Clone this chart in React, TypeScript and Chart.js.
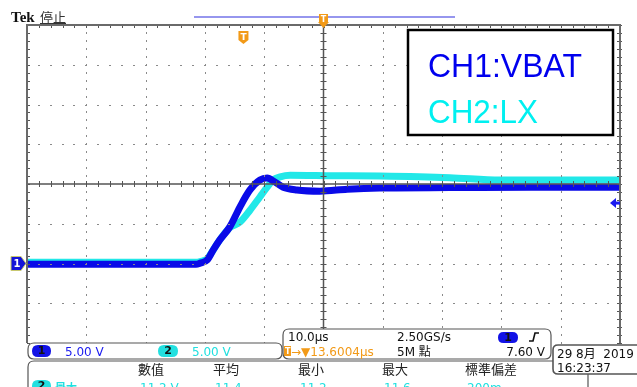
import React, { useEffect, useRef } from 'react';
import { Chart, registerables } from 'chart.js';
Chart.register(...registerables);

// ---- data (time in µs from left edge of screen, voltage in V relative to CH1 ground marker)
const ch1Time = [0, 20, 28.5, 29.2, 30.4, 31.4, 32.5, 34.2, 35.9, 37.6, 39.3, 40.5, 41.8, 43.2, 45.5, 49.4, 54, 59.5, 71.3, 85, 100];
const ch1Volt = [-0.1, -0.1, -0.1, 0.05, 0.45, 1.7, 2.95, 4.6, 7.1, 9.25, 10.5, 10.75, 10.25, 9.6, 9.25, 9.1, 9.35, 9.5, 9.55, 9.6, 9.6];
const ch2Time = [0, 20, 28.5, 29.2, 30.4, 31.4, 32.5, 34.2, 35.9, 37.6, 39.3, 40.5, 41.5, 42.7, 44.4, 51.1, 59.5, 71.3, 79.8, 90, 100];
const ch2Volt = [0.15, 0.15, 0.15, 0.25, 0.6, 1.7, 2.95, 4.5, 5.2, 6.7, 8.4, 9.6, 10.5, 10.9, 11.1, 11.05, 11.0, 10.8, 10.5, 10.5, 10.5];

const xMajorTicks = [0, 10, 20, 30, 40, 50, 60, 70, 80, 90, 100];
const yMajorTicks = [-10, -5, 0, 5, 10, 15, 20, 25, 30];
const xMinorStep = 2;
const yMinorStep = 1;
const xCenter = 50;
const yCenter = 10;
const triggerLevel = 7.6;
const triggerPos = 36.5;

const legendLabels = ['CH1:VBAT', 'CH2:LX'];
const measHeaders = ['數值', '平均', '最小', '最大', '標準偏差'];
const measValues = ['11.2 V', '11.4', '11.2', '11.6', '200m'];

const BLUE = '#0a0ae8';
const CYAN = '#22e8e8';
const ORANGE = '#f29a18';
const UI_FONT = "'DejaVu Sans', 'Noto Sans CJK TC'";
const CJK_FONT = "'Noto Sans CJK TC', 'DejaVu Sans'";

function rr(ctx: CanvasRenderingContext2D, x: number, y: number, w: number, h: number, r: number) {
  ctx.beginPath();
  ctx.moveTo(x + r, y);
  ctx.lineTo(x + w - r, y);
  ctx.quadraticCurveTo(x + w, y, x + w, y + r);
  ctx.lineTo(x + w, y + h - r);
  ctx.quadraticCurveTo(x + w, y + h, x + w - r, y + h);
  ctx.lineTo(x + r, y + h);
  ctx.quadraticCurveTo(x, y + h, x, y + h - r);
  ctx.lineTo(x, y + r);
  ctx.quadraticCurveTo(x, y, x + r, y);
  ctx.closePath();
}

function pill(ctx: CanvasRenderingContext2D, x: number, y: number, w: number, h: number, color: string, label: string) {
  rr(ctx, x, y, w, h, h / 2);
  ctx.fillStyle = color;
  ctx.fill();
  ctx.fillStyle = '#111';
  ctx.font = `bold 11px ${UI_FONT}`;
  ctx.textAlign = 'center';
  ctx.textBaseline = 'middle';
  ctx.fillText(label, x + w / 2, y + h / 2 + 0.5);
  ctx.textAlign = 'left';
  ctx.textBaseline = 'alphabetic';
}

const scopePlugin = {
  id: 'scope',
  beforeDraw(chart: any) {
    const ctx = chart.ctx as CanvasRenderingContext2D;
    ctx.save();
    ctx.fillStyle = '#ffffff';
    ctx.fillRect(0, 0, chart.width, chart.height);
    ctx.restore();
  },
  afterDatasetsDraw(chart: any) {
    const ctx = chart.ctx as CanvasRenderingContext2D;
    const xs = chart.scales.x;
    const ys = chart.scales.y;
    const left = xs.getPixelForValue(xMajorTicks[0]);
    const right = xs.getPixelForValue(xMajorTicks[xMajorTicks.length - 1]);
    const top = ys.getPixelForValue(yMajorTicks[yMajorTicks.length - 1]);
    const bottom = ys.getPixelForValue(yMajorTicks[0]);
    const cx = xs.getPixelForValue(xCenter);
    const cy = ys.getPixelForValue(yCenter);
    ctx.save();

    // dotted graticule
    ctx.fillStyle = '#8a8a8a';
    for (const t of xMajorTicks) {
      if (t === xCenter || t === xMajorTicks[0] || t === xMajorTicks[xMajorTicks.length - 1]) continue;
      const px = Math.round(xs.getPixelForValue(t));
      for (let v = yMajorTicks[0]; v <= yMajorTicks[yMajorTicks.length - 1]; v += yMinorStep) {
        const py = Math.round(ys.getPixelForValue(v));
        ctx.fillRect(px, py - 1, 1, 2);
      }
    }
    for (const t of yMajorTicks) {
      if (t === yCenter || t === yMajorTicks[0] || t === yMajorTicks[yMajorTicks.length - 1]) continue;
      const py = Math.round(ys.getPixelForValue(t));
      for (let v = xMajorTicks[0]; v <= xMajorTicks[xMajorTicks.length - 1]; v += xMinorStep) {
        const px = Math.round(xs.getPixelForValue(v));
        ctx.fillRect(px - 1, py, 2, 1);
      }
    }

    // center axes with ticks
    ctx.strokeStyle = '#555';
    ctx.lineWidth = 1.5;
    ctx.beginPath();
    ctx.moveTo(left, cy); ctx.lineTo(right, cy);
    ctx.moveTo(cx, top); ctx.lineTo(cx, bottom);
    ctx.stroke();
    ctx.lineWidth = 1;
    ctx.beginPath();
    for (let v = xMajorTicks[0]; v <= xMajorTicks[xMajorTicks.length - 1]; v += xMinorStep) {
      const px = Math.round(xs.getPixelForValue(v)) + 0.5;
      ctx.moveTo(px, cy - 3); ctx.lineTo(px, cy + 3);
      ctx.moveTo(px, top); ctx.lineTo(px, top + 3);
    }
    for (let v = yMajorTicks[0]; v <= yMajorTicks[yMajorTicks.length - 1]; v += yMinorStep) {
      const py = Math.round(ys.getPixelForValue(v)) + 0.5;
      ctx.moveTo(cx - 3, py); ctx.lineTo(cx + 3, py);
      ctx.moveTo(left, py); ctx.lineTo(left + 3, py);
      ctx.moveTo(right - 3, py); ctx.lineTo(right + 2, py);
    }
    ctx.stroke();

    // border
    ctx.strokeStyle = '#6a6a6a';
    ctx.lineWidth = 2;
    ctx.beginPath();
    ctx.moveTo(left, bottom); ctx.lineTo(left, top); ctx.lineTo(right, top); ctx.lineTo(right, bottom);
    ctx.stroke();

    // top header
    ctx.fillStyle = '#111';
    ctx.font = "bold 15px 'Liberation Serif'";
    ctx.fillText('Tek', 11, 22);
    ctx.font = `13px ${CJK_FONT}`;
    ctx.fillStyle = '#333';
    ctx.fillText('停止', 40, 22);
    ctx.strokeStyle = '#333';
    ctx.lineWidth = 1;
    ctx.beginPath(); ctx.moveTo(40, 23.5); ctx.lineTo(66, 23.5); ctx.stroke();

    ctx.strokeStyle = '#9696ee';
    ctx.lineWidth = 2;
    ctx.beginPath(); ctx.moveTo(194, 17); ctx.lineTo(455, 17); ctx.stroke();

    // top trigger marker
    ctx.fillStyle = ORANGE;
    ctx.fillRect(319, 14, 9, 9);
    ctx.beginPath(); ctx.moveTo(318, 22); ctx.lineTo(329, 22); ctx.lineTo(323.5, 28); ctx.closePath(); ctx.fill();
    ctx.fillStyle = '#fff';
    ctx.font = `bold 8px ${UI_FONT}`;
    ctx.textAlign = 'center';
    ctx.fillText('T', 323.5, 22);

    // trigger position marker inside graticule
    const tx = xs.getPixelForValue(triggerPos);
    ctx.fillStyle = ORANGE;
    ctx.beginPath();
    ctx.moveTo(tx - 5, 31); ctx.lineTo(tx + 5, 31); ctx.lineTo(tx + 5, 40); ctx.lineTo(tx, 44); ctx.lineTo(tx - 5, 40); ctx.closePath();
    ctx.fill();
    ctx.fillStyle = '#fff';
    ctx.font = `bold 9px ${UI_FONT}`;
    ctx.fillText('T', tx, 40);
    ctx.textAlign = 'left';

    // CH1 ground marker
    const gy = ys.getPixelForValue(0);
    ctx.fillStyle = '#1414d8';
    ctx.beginPath();
    ctx.moveTo(11, gy - 7); ctx.lineTo(21, gy - 7); ctx.lineTo(26, gy); ctx.lineTo(21, gy + 7); ctx.lineTo(11, gy + 7); ctx.closePath();
    ctx.fill();
    ctx.strokeStyle = '#c8c870';
    ctx.lineWidth = 1;
    ctx.stroke();
    ctx.fillStyle = '#fff';
    ctx.font = `bold 10px ${UI_FONT}`;
    ctx.textAlign = 'center';
    ctx.textBaseline = 'middle';
    ctx.fillText('1', 17, gy + 0.5);
    ctx.textAlign = 'left';
    ctx.textBaseline = 'alphabetic';

    // trigger level arrow
    const ty = ys.getPixelForValue(triggerLevel);
    ctx.fillStyle = '#1a1aef';
    ctx.beginPath();
    ctx.moveTo(610, ty); ctx.lineTo(616, ty - 5); ctx.lineTo(616, ty + 5); ctx.closePath(); ctx.fill();
    ctx.fillRect(615, ty - 1.5, 5, 3);

    // legend box
    ctx.fillStyle = '#fff';
    ctx.fillRect(407, 29, 207, 107);
    ctx.strokeStyle = '#000';
    ctx.lineWidth = 2.5;
    ctx.strokeRect(408, 30, 205, 105);
    ctx.font = "33px 'Liberation Sans'";
    ctx.fillStyle = '#0000ee';
    ctx.fillText(legendLabels[0], 428, 77, 154);
    ctx.fillStyle = '#00f0f0';
    ctx.fillText(legendLabels[1], 428, 123, 110);

    // channel box
    rr(ctx, 28, 343, 254, 16, 6);
    ctx.fillStyle = '#fff'; ctx.fill();
    ctx.strokeStyle = '#555'; ctx.lineWidth = 1.2; ctx.stroke();
    pill(ctx, 32, 345, 19, 12, '#1212e6', '1');
    pill(ctx, 158, 345, 20, 12, '#22e0e0', '2');
    ctx.font = `12px ${UI_FONT}`;
    ctx.fillStyle = '#1a1aef';
    ctx.fillText('5.00 V', 65, 356);
    ctx.fillStyle = '#20e0e0';
    ctx.fillText('5.00 V', 192, 356);

    // measurement box
    rr(ctx, 28, 361, 560, 40, 6);
    ctx.fillStyle = '#fff'; ctx.fill();
    ctx.strokeStyle = '#555'; ctx.stroke();

    // timebase box
    rr(ctx, 283, 329, 268, 30, 6);
    ctx.fillStyle = '#fff'; ctx.fill();
    ctx.strokeStyle = '#555'; ctx.stroke();
    ctx.fillStyle = '#111';
    ctx.font = `12px ${UI_FONT}`;
    ctx.fillText('10.0µs', 288, 341);
    ctx.fillText('2.50GS/s', 397, 341);
    pill(ctx, 498, 332, 20, 11, '#1212e6', '1');
    ctx.strokeStyle = '#111'; ctx.lineWidth = 1.6;
    ctx.beginPath(); ctx.moveTo(529, 341); ctx.lineTo(533, 341); ctx.lineTo(535, 333); ctx.lineTo(539, 333); ctx.stroke();
    ctx.fillStyle = ORANGE;
    ctx.fillRect(284, 346, 7, 10);
    ctx.fillStyle = '#fff';
    ctx.font = `bold 8px ${UI_FONT}`;
    ctx.fillText('T', 285, 354);
    ctx.fillStyle = ORANGE;
    ctx.font = `12px ${UI_FONT}`;
    ctx.fillText('→▼13.6004µs', 291, 356);
    ctx.fillStyle = '#111';
    ctx.fillText('5M 點', 397, 356);
    ctx.textAlign = 'right';
    ctx.fillText('7.60 V', 545, 356);
    ctx.textAlign = 'left';

    // date box
    rr(ctx, 553, 345, 92, 29, 5);
    ctx.fillStyle = '#fff'; ctx.fill();
    ctx.strokeStyle = '#555'; ctx.stroke();
    ctx.fillStyle = '#111';
    ctx.fillText('29 8月  2019', 557, 358);
    ctx.fillText('16:23:37', 557, 372);

    // measurement table
    ctx.font = `13px ${CJK_FONT}`;
    ctx.fillStyle = '#222';
    const colX = [138, 213, 298, 382, 465];
    measHeaders.forEach((h, i) => ctx.fillText(h, colX[i], 374));
    pill(ctx, 32, 380, 19, 12, '#22e0e0', '2');
    ctx.fillStyle = '#20e0e0';
    ctx.fillText('最大', 55, 392);
    ctx.font = `12px ${UI_FONT}`;
    measValues.forEach((v, i) => ctx.fillText(v, colX[i] + 2, 392));

    ctx.restore();
  },
};

export default function App() {
  const ref = useRef<HTMLCanvasElement | null>(null);
  useEffect(() => {
    document.body.style.margin = '0';
    if (!ref.current) return;
    const chart = new Chart(ref.current, {
      type: 'line',
      data: {
        datasets: [
          {
            label: 'CH1',
            data: ch1Time.map((t, i) => ({ x: t, y: ch1Volt[i] })),
            borderColor: BLUE,
            borderWidth: 7,
            pointRadius: 0,
            cubicInterpolationMode: 'monotone',
            fill: false,
            order: 0,
          },
          {
            label: 'CH2',
            data: ch2Time.map((t, i) => ({ x: t, y: ch2Volt[i] })),
            borderColor: CYAN,
            borderWidth: 7,
            pointRadius: 0,
            cubicInterpolationMode: 'monotone',
            fill: false,
            order: 1,
          },
        ],
      },
      options: {
        animation: false,
        responsive: false,
        devicePixelRatio: 1,
        layout: { padding: { left: 27, top: 25, right: 17, bottom: 44 } },
        scales: {
          x: { type: 'linear', min: 0, max: 100, display: false },
          y: { type: 'linear', min: -10, max: 30, display: false },
        },
        plugins: { legend: { display: false }, tooltip: { enabled: false } },
      },
      plugins: [scopePlugin],
    } as any);
    return () => chart.destroy();
  }, []);
  return (
    <div style={{ position: 'absolute', left: 0, top: 0, width: 637, height: 387 }}>
      <canvas ref={ref} width={637} height={387} style={{ width: 637, height: 387 }} />
    </div>
  );
}
